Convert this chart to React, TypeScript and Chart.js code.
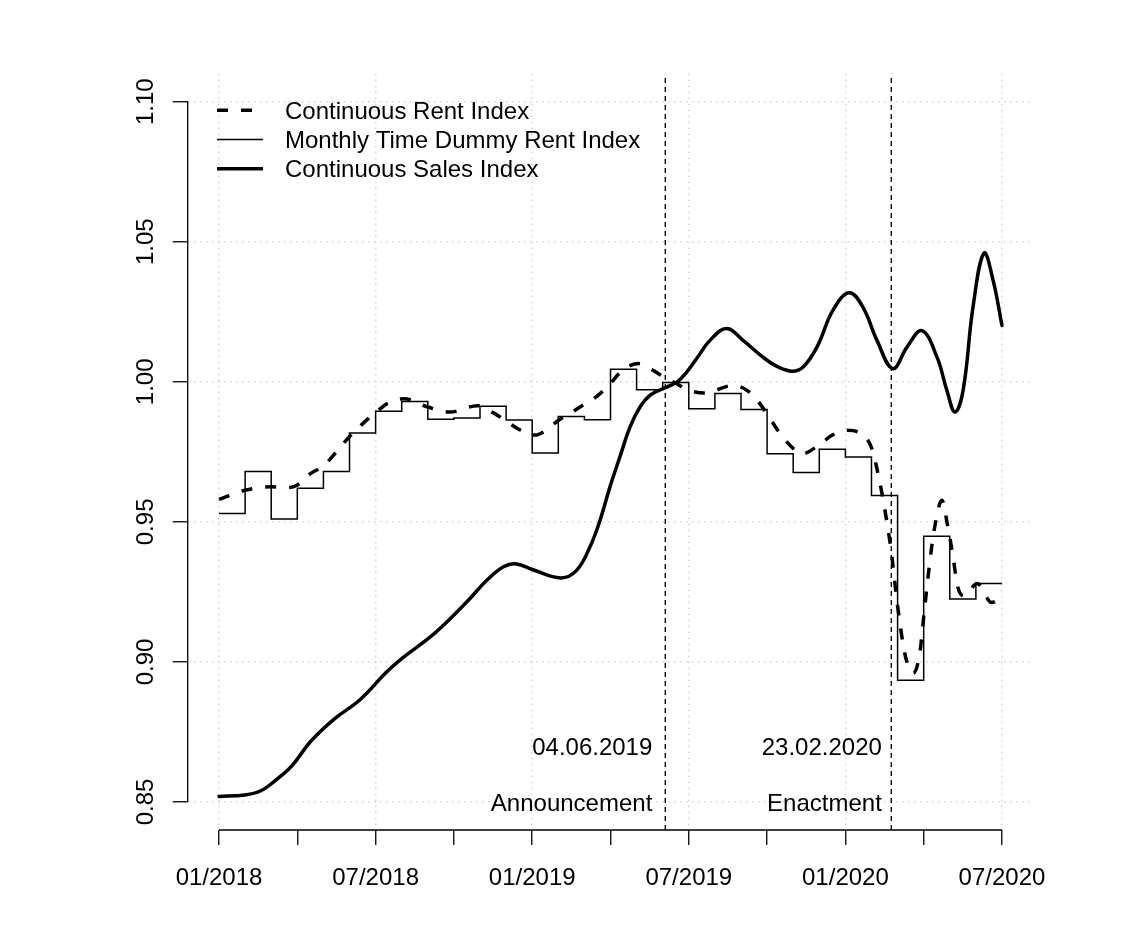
import { useEffect, useRef } from "react"
import { Chart, registerables } from "chart.js"

Chart.register(...registerables)

const FONT = '"Liberation Sans", Arial, Helvetica, sans-serif'
const GRID = "#d3d3d3"

// x is counted in months since 01/2018
const xTickValues = [0, 3, 6, 9, 12, 15, 18, 21, 24, 27, 30]
const xTickLabels = ["01/2018", "", "07/2018", "", "01/2019", "", "07/2019", "", "01/2020", "", "07/2020"]
const yTickValues = [0.85, 0.9, 0.95, 1.0, 1.05, 1.1]
const yTickLabels = ["0.85", "0.90", "0.95", "1.00", "1.05", "1.10"]

const seriesLabels = ["Continuous Rent Index", "Monthly Time Dummy Rent Index", "Continuous Sales Index"]

const rentMonths = [
  0, 1, 2, 2.6, 3, 3.5, 4, 4.5, 5, 5.5, 6, 6.5, 7.1, 8, 8.85, 9.9, 10.5, 11, 11.5, 12.1,
  12.5, 13, 13.5, 14, 14.5, 15, 15.5, 16.1, 16.5, 17, 17.5, 18, 18.6, 19.7, 20.3, 20.7, 21,
  21.5, 22, 22.3, 23, 23.5, 24.05, 24.5, 25, 25.3, 25.5, 25.75, 26, 26.3, 26.6, 26.85, 27,
  27.2, 27.4, 27.7, 27.9, 28.1, 28.3, 28.55, 29.05, 29.6, 30,
]
const rentValues = [
  0.958, 0.9613, 0.9625, 0.9622, 0.9632, 0.9672, 0.97, 0.975, 0.9805, 0.985, 0.989, 0.9925,
  0.994, 0.991, 0.9892, 0.9915, 0.989, 0.986, 0.983, 0.981, 0.9825, 0.9862, 0.989, 0.992,
  0.995, 0.9995, 1.0045, 1.0065, 1.0048, 1.002, 0.9995, 0.997, 0.996, 0.9987, 0.9965, 0.9925,
  0.9885, 0.9815, 0.9762, 0.9742, 0.9775, 0.981, 0.9827, 0.982, 0.9765, 0.965, 0.955, 0.94,
  0.92, 0.902, 0.896, 0.903, 0.916, 0.933, 0.947, 0.9577, 0.9495, 0.939, 0.927, 0.9235,
  0.928, 0.9212, 0.923,
]

// one value per month, 01/2018 .. 06/2020
const dummyRentValues = [
  0.953, 0.968, 0.951, 0.962, 0.968, 0.9817, 0.9895, 0.993, 0.9866, 0.9871, 0.9913, 0.9864,
  0.9746, 0.9876, 0.9865, 1.0045, 0.9972, 0.9998, 0.9904, 0.9958, 0.9901, 0.9743, 0.9676,
  0.9759, 0.9732, 0.9594, 0.8935, 0.9449, 0.9225, 0.928,
]

const salesMonths = [
  0, 1, 1.6, 2.2, 2.8, 3.5, 4.4, 5.4, 6.4, 7, 8, 8.6, 9.5, 10.3, 10.9, 11.4, 12, 13.1, 13.7,
  14.21, 14.6, 14.98, 15.36, 15.75, 16.13, 16.51, 17.02, 17.54, 17.92, 18.31, 18.81, 19.45,
  20.08, 20.84, 21.38, 21.95, 22.38, 22.91, 23.52, 24.14, 24.67, 25.21, 25.82, 26.36, 26.93,
  27.51, 27.89, 28.2, 28.51, 28.89, 29.31, 29.66, 30,
]
const salesValues = [
  0.852, 0.8525, 0.854, 0.858, 0.863, 0.8715, 0.8795, 0.8865, 0.8962, 0.9012, 0.9082, 0.9131,
  0.9215, 0.9295, 0.934, 0.935, 0.933, 0.93, 0.9327, 0.941, 0.9506, 0.9625, 0.9732, 0.9839,
  0.991, 0.9952, 0.9976, 0.9999, 1.0035, 1.0084, 1.0148, 1.019, 1.0148, 1.0088, 1.0055,
  1.0038, 1.0053, 1.0124, 1.0255, 1.0318, 1.0267, 1.0148, 1.0047, 1.0124, 1.0183, 1.0088,
  0.9969, 0.9892, 0.9969, 1.0267, 1.0459, 1.0362, 1.0201,
]

const eventMonths = [17.1, 25.76]
const eventDates = ["04.06.2019", "23.02.2020"]
const eventNames = ["Announcement", "Enactment"]
const eventTextLevels = [0.87, 0.85]

const X_MIN = -1.2
const X_MAX = 31.2
const Y_MIN = 0.84
const Y_MAX = 1.11

const toPoints = (xs: number[], ys: number[]) => xs.map((x, i) => ({ x, y: ys[i] }))

const decorations = {
  id: "decorations",
  afterDraw(chart: any) {
    const { ctx, chartArea, scales } = chart
    const x = scales.x
    const y = scales.y
    ctx.save()

    // axis lines only span the first to the last tick, like base R
    ctx.strokeStyle = "#000"
    ctx.lineWidth = 1.3
    ctx.setLineDash([])
    ctx.beginPath()
    ctx.moveTo(chartArea.left, y.getPixelForValue(yTickValues[0]))
    ctx.lineTo(chartArea.left, y.getPixelForValue(yTickValues[yTickValues.length - 1]))
    ctx.moveTo(x.getPixelForValue(xTickValues[0]), chartArea.bottom)
    ctx.lineTo(x.getPixelForValue(xTickValues[xTickValues.length - 1]), chartArea.bottom)
    ctx.stroke()

    ctx.fillStyle = "#000"
    ctx.font = `24px ${FONT}`
    ctx.textBaseline = "alphabetic"

    // y tick labels, rotated
    ctx.textAlign = "center"
    yTickValues.forEach((v, i) => {
      ctx.save()
      ctx.translate(chartArea.left - 35, y.getPixelForValue(v))
      ctx.rotate(-Math.PI / 2)
      ctx.fillText(yTickLabels[i], 0, 0)
      ctx.restore()
    })

    // x tick labels
    xTickValues.forEach((v, i) => {
      if (xTickLabels[i]) ctx.fillText(xTickLabels[i], x.getPixelForValue(v), chartArea.bottom + 55)
    })

    // event labels
    const gaps = [13, 9.5]
    ctx.textAlign = "right"
    eventMonths.forEach((m, i) => {
      const px = x.getPixelForValue(m) - gaps[i]
      ctx.fillText(eventDates[i], px, y.getPixelForValue(eventTextLevels[0]) + 8.6)
      ctx.fillText(eventNames[i], px, y.getPixelForValue(eventTextLevels[1]) + 8.6)
    })

    // legend in the top left corner
    ctx.textAlign = "left"
    seriesLabels.forEach((label, i) => {
      const ds = chart.data.datasets[i]
      const ly = chartArea.top + 36.6 + i * 29.2
      ctx.strokeStyle = "#000"
      ctx.lineWidth = ds.borderWidth
      ctx.setLineDash(ds.borderDash || [])
      ctx.beginPath()
      ctx.moveTo(chartArea.left + 29.3, ly)
      ctx.lineTo(chartArea.left + 75.3, ly)
      ctx.stroke()
      ctx.setLineDash([])
      ctx.fillText(label, chartArea.left + 97.3, ly + 8.6)
    })

    ctx.restore()
  },
}

function RentSalesChart() {
  const chartRef = useRef<HTMLCanvasElement>(null)
  const chartInstance = useRef<Chart | null>(null)

  useEffect(() => {
    if (!chartRef.current) return
    document.body.style.margin = "0"

    if (chartInstance.current) {
      chartInstance.current.destroy()
    }

    const ctx = chartRef.current.getContext("2d")
    if (!ctx) return

    const dummyPoints = [
      ...dummyRentValues.map((v, i) => ({ x: i, y: v })),
      { x: dummyRentValues.length, y: dummyRentValues[dummyRentValues.length - 1] },
    ]

    chartInstance.current = new Chart(ctx, {
      type: "line",
      data: {
        datasets: [
          {
            label: seriesLabels[0],
            data: toPoints(rentMonths, rentValues),
            borderColor: "#000",
            borderWidth: 3.5,
            borderDash: [11, 13],
            cubicInterpolationMode: "monotone",
            pointRadius: 0,
            fill: false,
          },
          {
            label: seriesLabels[1],
            data: dummyPoints,
            borderColor: "#000",
            borderWidth: 1.5,
            stepped: "before",
            pointRadius: 0,
            fill: false,
          },
          {
            label: seriesLabels[2],
            data: toPoints(salesMonths, salesValues),
            borderColor: "#000",
            borderWidth: 3.5,
            borderJoinStyle: "round",
            borderCapStyle: "round",
            tension: 0.4,
            pointRadius: 0,
            fill: false,
          },
          ...eventMonths.map((m) => ({
            label: "",
            data: [
              { x: m, y: Y_MIN },
              { x: m, y: Y_MAX },
            ],
            borderColor: "#000",
            borderWidth: 1.4,
            borderDash: [5, 4],
            pointRadius: 0,
            fill: false,
          })),
        ],
      },
      options: {
        responsive: false,
        animation: false,
        layout: {
          padding: { left: 172.7, right: 92.7, top: 73.7, bottom: 95 },
        },
        plugins: {
          legend: { display: false },
          tooltip: { enabled: false },
        },
        scales: {
          x: {
            type: "linear",
            min: X_MIN,
            max: X_MAX,
            bounds: "data",
            afterBuildTicks: (scale: any) => {
              scale.ticks = xTickValues.map((v) => ({ value: v }))
            },
            ticks: { display: false },
            border: { display: false, dash: [1.5, 4.5] },
            grid: {
              color: (c: any) => (c.tick && c.tick.value % 6 === 0 ? GRID : "rgba(0,0,0,0)"),
              lineWidth: 1.5,
              drawTicks: true,
              tickLength: 15,
              tickColor: "#000",
              tickWidth: 1.3,
              tickBorderDash: [],
            },
          },
          y: {
            type: "linear",
            min: Y_MIN,
            max: Y_MAX,
            bounds: "data",
            afterBuildTicks: (scale: any) => {
              scale.ticks = yTickValues.map((v) => ({ value: v }))
            },
            ticks: { display: false },
            border: { display: false, dash: [1.5, 4.5] },
            grid: {
              color: GRID,
              lineWidth: 1.5,
              drawTicks: true,
              tickLength: 15,
              tickColor: "#000",
              tickWidth: 1.3,
              tickBorderDash: [],
            },
          },
        },
      },
      plugins: [decorations],
    } as any)

    return () => {
      if (chartInstance.current) {
        chartInstance.current.destroy()
        chartInstance.current = null
      }
    }
  }, [])

  return (
    <div style={{ width: 1126, height: 940, background: "#fff" }}>
      <canvas ref={chartRef} width={1126} height={940} style={{ width: 1126, height: 940 }}></canvas>
    </div>
  )
}

export default function App() {
  return <RentSalesChart />
}
